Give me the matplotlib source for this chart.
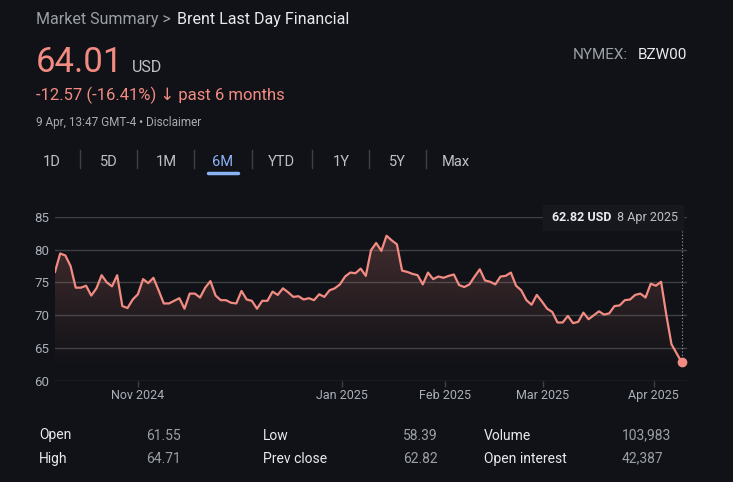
import numpy as np
import matplotlib.pyplot as plt
from matplotlib.colors import to_rgb
from matplotlib.lines import Line2D
from matplotlib.patches import Polygon, Rectangle

# Brent Last Day Financial, trading days 9 Oct 2024 - 8 Apr 2025
prices = [
    76.6, 79.4, 79.1, 77.5, 74.2, 74.2, 74.5, 73.0, 74.1, 76.1,
    75.0, 74.4, 76.1, 71.4, 71.1, 72.4, 73.2, 75.5, 74.9, 75.7,
    73.8, 71.8, 71.8, 72.2, 72.6, 71.0, 73.3, 73.3, 72.7, 74.2,
    75.2, 73.0, 72.3, 72.3, 71.9, 71.8, 73.7, 72.4, 72.2, 71.0,
    72.2, 72.2, 73.6, 73.1, 74.1, 73.5, 72.8, 72.9, 72.4, 72.6,
    72.3, 73.2, 72.8, 73.8, 74.1, 74.7, 75.9, 76.5, 76.4, 77.1,
    76.0,
    79.9, 81.0, 79.8, 82.1, 81.4, 80.8, 76.8, 76.6, 76.3, 76.1,
    74.7, 76.5, 75.5, 75.9, 75.7, 76.0, 76.2, 74.6, 74.3, 74.7,
    75.9, 77.0, 75.3, 75.1, 74.7, 75.9, 76.0, 76.5, 74.5, 73.8,
    72.3, 71.6, 73.1, 72.1, 71.0, 70.5, 68.9, 68.9, 69.9, 68.8,
    69.0, 70.4, 69.4, 70.0, 70.6, 70.1, 70.3, 71.4, 71.5, 72.3,
    72.4, 73.1, 73.3, 72.7, 74.8, 74.5, 75.1,
    70.1, 65.6, 64.2, 62.82,
]
yticks = [60, 65, 70, 75, 80, 85]
month_labels = ['Nov 2024', 'Jan 2025', 'Feb 2025', 'Mar 2025', 'Apr 2025']
month_pos = [16.0, 55.4, 75.3, 94.2, 115.6]  # trading-day index of month boundary
tabs = ['1D', '5D', '1M', '6M', 'YTD', '1Y', '5Y', 'Max']
stat_labels = [['Open', 'High'], ['Low', 'Prev close'], ['Volume', 'Open interest']]
stat_values = [['61.55', '64.71'], ['58.39', '62.82'], ['103,983', '42,387']]

W, H = 733, 482
bg = '#111217'
red = '#f28b82'
grey = '#9aa0a6'
light = '#e8eaed'
blue = '#8ab4f8'
gridc = '#3c4043'

plt.rcParams['font.family'] = ['Roboto', 'DejaVu Sans']

fig = plt.figure(figsize=(W / 100, H / 100), dpi=100, facecolor=bg)

def fx(x):
    return x / W

def fy(y):
    return 1 - y / H

def t(x, y, s, **kw):
    fig.text(fx(x), fy(y), s, va='baseline', **kw)

# chart
ax = fig.add_axes([fx(55), fy(381), (687 - 55) / W, (381 - 216.7) / H])
ax.set_facecolor(bg)
x = np.arange(len(prices))

grad = np.zeros((256, 1, 4))
grad[..., :3] = to_rgb(red)
lev = np.linspace(85, 60, 256)
grad[:, 0, 3] = np.clip((lev - 62) / 23 * 0.25, 0, None)
im = ax.imshow(grad, extent=[0, 122, 60, 85], aspect='auto', origin='upper', zorder=1)
poly = Polygon(np.column_stack([np.r_[x, x[-1], x[0]], np.r_[prices, 60, 60]]),
               closed=True, facecolor='none', edgecolor='none')
ax.add_patch(poly)
im.set_clip_path(poly)

ax.plot(x, prices, color=red, lw=1.6, zorder=3)
ax.plot([x[-1], x[-1]], [prices[-1], 83.0], ls=(0, (1, 2)), color=grey, lw=0.8, zorder=2)
ax.plot(x[-1], prices[-1], 'o', ms=6, color=red, zorder=4, clip_on=False)

ax.set_xlim(0, 122)
ax.set_ylim(60, 85)
ax.set_yticks(yticks)
ax.set_xticks(month_pos, month_labels)
ax.grid(axis='y', color=gridc, lw=1)
ax.set_axisbelow(True)
for s in ax.spines.values():
    s.set_visible(False)
ax.tick_params(axis='y', length=0, pad=4, labelcolor='#aab0b8', labelsize=9.5)
ax.tick_params(axis='x', length=4, width=1, color=gridc, pad=2,
               labelcolor='#aab0b8', labelsize=9)

# tooltip
fig.add_artist(Rectangle((fx(543), fy(230)), (683 - 543) / W, (230 - 205) / H,
                         transform=fig.transFigure, color='#17181d', zorder=5))
t(551.7, 220.7, '62.82 USD', color=light, size=9, weight='bold', zorder=6)
t(617.3, 220.7, '8 Apr 2025', color='#bdc1c6', size=9, zorder=6)

# header
t(36, 24.3, 'Market Summary >', color=grey, size=11.5)
t(176.6, 24.3, 'Brent Last Day Financial', color=light, size=11.5)
t(36, 71.7, '64.01', color=red, size=25)
t(132, 71.7, 'USD', color='#bdc1c6', size=11.5)
t(36, 100, '-12.57 (-16.41%) \u2193 past 6 months', color=red, size=12)
t(36, 126, '9 Apr, 13:47 GMT-4 \u2022 Disclaimer', color='#a8acb1', size=8.5)
t(572.4, 59.3, 'NYMEX:', color=grey, size=11)
t(687, 59.3, 'BZW00', color=light, size=11, ha='right')

# range tabs
tab_x = [52, 108.4, 166, 222.4, 281.8, 341, 397, 456]
for lab, cx in zip(tabs, tab_x):
    t(cx, 165.7, lab, ha='center', size=10.5, color=blue if lab == '6M' else '#bdc1c6')
for sx in [80.4, 137, 194, 251.5, 311.8, 369.3, 426.4]:
    fig.add_artist(Line2D([fx(sx), fx(sx)], [fy(150), fy(168)], color=gridc, lw=1))
fig.add_artist(Line2D([fx(207.5), fx(237.5)], [fy(173.3), fy(173.3)], color=blue,
                      lw=2.5, solid_capstyle='round'))

# stats table
lab_x = [38.8, 262.6, 483.6]
val_x = [146.3, 403.3, 621.5]
for c in range(3):
    for r, yb in enumerate([439.5, 462.7]):
        t(lab_x[c], yb, stat_labels[c][r], color=light, size=10)
        t(val_x[c], yb, stat_values[c][r], color=grey, size=10)

fig.savefig('out.png', dpi=100, facecolor=bg)
